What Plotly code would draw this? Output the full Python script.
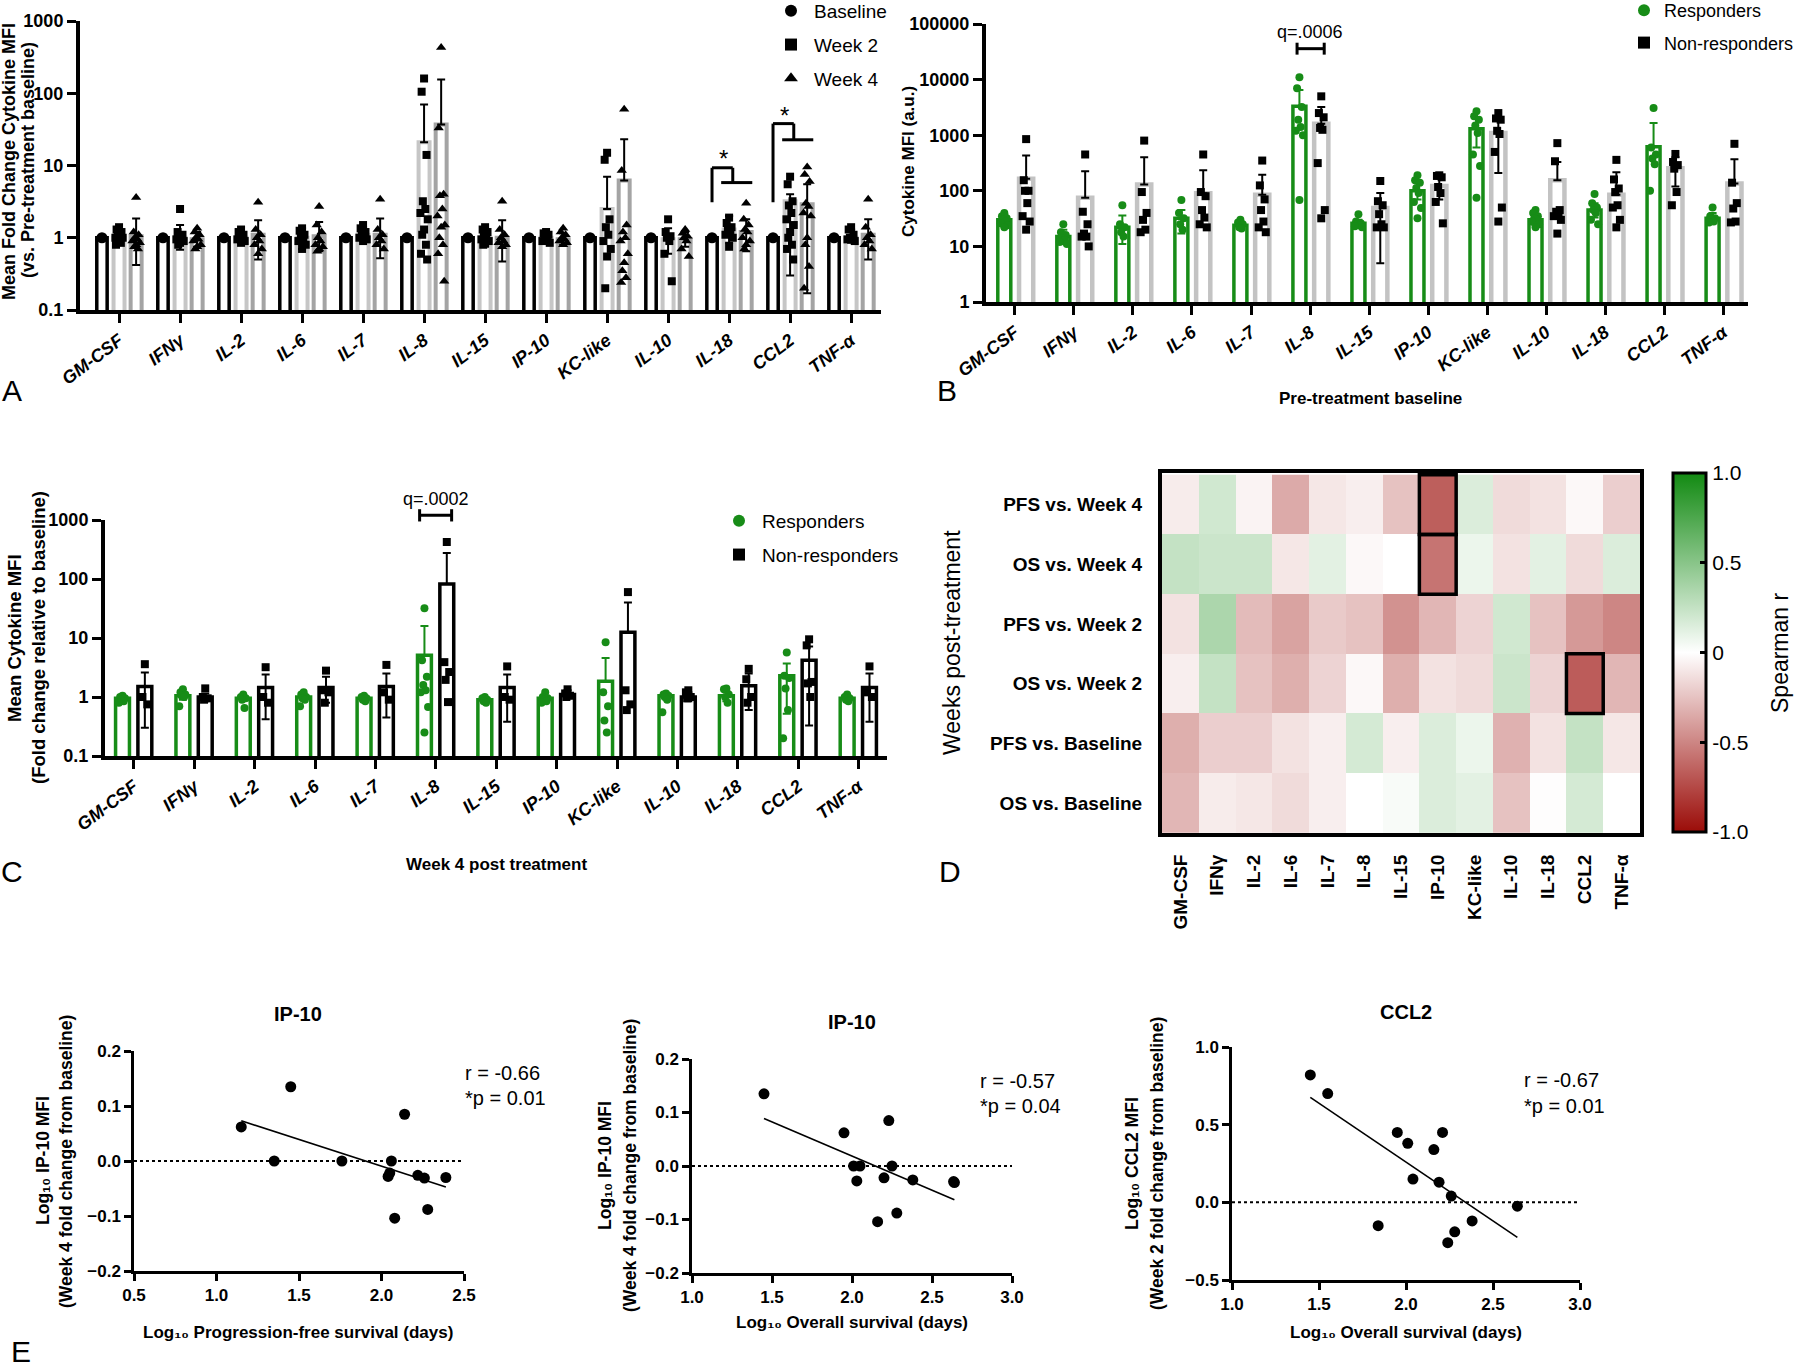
import numpy as np
import plotly.graph_objects as go

W, H = 1800, 1368
FONT = "Liberation Sans, Arial, Helvetica, sans-serif"
GREEN = "#178c17"

cytokines = ["GM-CSF", "IFNγ", "IL-2", "IL-6", "IL-7", "IL-8", "IL-15",
             "IP-10", "KC-like", "IL-10", "IL-18", "CCL2", "TNF-α"]

# ---------------- Panel A : fold change vs baseline ----------------
a_base_mean = [1.0, 1.0, 1.0, 1.0, 1.0, 1.0, 1.0, 1.0, 1.0, 1.0, 1.0, 1.0, 1.0]
a_w2_mean = [1.0, 1.0, 1.0, 1.0, 1.1, 21, 1.0, 1.0, 2.5, 0.95, 1.3, 3.2, 1.0]
a_w2_hi = [1.25, 1.5, 1.2, 1.35, 1.4, 70, 1.3, 1.15, 7.0, 1.35, 2.0, 4.0, 1.3]
a_w2_lo = [0.8, 0.68, 0.85, 0.7, 0.9, None, 0.75, 0.85, None, 0.6, 0.85, 0.3, 0.85]
a_w2_pts = [
    [1.4, 1.3, 1.2, 1.1, 1.05, 1.0, 1.0, 0.95, 0.9, 0.85, 0.8],
    [2.5, 1.2, 1.1, 1.05, 1.0, 0.95, 0.9, 0.85, 0.8],
    [1.3, 1.2, 1.1, 1.0, 1.0, 0.95, 0.9, 0.85],
    [1.35, 1.25, 1.1, 1.0, 0.95, 0.9, 0.8, 0.7],
    [1.5, 1.35, 1.2, 1.1, 1.05, 1.0, 0.95, 0.9],
    [160, 105, 14, 3.2, 2.5, 2.2, 1.8, 1.3, 1.1, 0.8, 0.6, 0.5],
    [1.4, 1.3, 1.2, 1.1, 1.0, 0.95, 0.9, 0.85, 0.8],
    [1.2, 1.15, 1.1, 1.0, 0.95, 0.9, 0.85],
    [15, 12, 1.8, 1.4, 1.1, 0.9, 0.7, 0.55, 0.2],
    [1.8, 1.2, 1.05, 1.0, 0.9, 0.6, 0.25],
    [1.9, 1.6, 1.4, 1.3, 1.2, 1.1, 1.0, 0.75],
    [7.0, 5.5, 3.2, 2.8, 2.2, 1.8, 1.5, 1.2, 1.0, 0.8, 0.7, 0.5],
    [1.4, 1.3, 1.1, 1.0, 1.0, 0.95, 0.9],
]
a_w4_mean = [1.05, 0.95, 1.1, 1.05, 1.1, 37, 1.0, 0.95, 6.2, 0.95, 1.2, 2.9, 1.1]
a_w4_hi = [1.85, 1.2, 1.75, 1.65, 1.85, 155, 1.75, 1.15, 23, 1.2, 1.8, 5.5, 1.8]
a_w4_lo = [0.42, 0.75, 0.5, 0.65, 0.52, None, 0.47, 0.8, None, 0.75, 0.65, 0.17, 0.5]
a_w4_pts = [
    [3.6, 1.2, 1.1, 1.0, 0.95, 0.9, 0.85, 0.8, 0.75, 0.7],
    [1.35, 1.2, 1.1, 1.0, 0.95, 0.9, 0.8, 0.75, 0.7],
    [3.1, 1.3, 1.1, 1.0, 0.9, 0.8, 0.7, 0.6],
    [2.7, 1.5, 1.2, 1.0, 0.9, 0.8, 0.75, 0.7, 0.65],
    [3.4, 1.3, 1.1, 1.0, 0.9, 0.8, 0.7],
    [430, 33, 4.0, 3.8, 2.5, 2.0, 1.5, 1.4, 1.0, 0.8, 0.6, 0.25],
    [3.2, 1.3, 1.1, 1.0, 0.9, 0.85, 0.8, 0.75],
    [1.35, 1.2, 1.1, 1.0, 0.95, 0.9, 0.85, 0.8],
    [60, 8.5, 1.5, 1.2, 1.0, 0.9, 0.6, 0.45, 0.35, 0.28, 0.24],
    [1.3, 1.15, 1.05, 1.0, 0.9, 0.7, 0.55],
    [3.0, 1.8, 1.5, 1.3, 1.2, 1.0, 0.9, 0.8, 0.7],
    [9.5, 7.5, 6.0, 3.0, 2.7, 2.2, 2.0, 1.0, 0.8, 0.4, 0.2],
    [3.4, 1.4, 1.1, 1.0, 0.9, 0.8, 0.7],
]
# significance brackets in A: (cytokine, leg bottom, top line, lower line, star)
a_sig = [("IL-18", 3.1, 9.3, 5.8, 10.2), ("CCL2", 3.1, 38, 22.7, 40)]

# ---------------- Panel B : pre-treatment baseline MFI ----------------
b_r_mean = [30, 15, 22, 32, 24, 3300, 26, 100, 1300, 30, 45, 620, 32]
b_r_hi = [38, 20, 36, 45, 28, 6500, 30, 140, 2000, 38, 60, 1650, 40]
b_r_lo = [24, 11, 11, 17, 21, None, 22, 70, 600, 24, 33, None, 27]
b_r_pts = [
    [40, 35, 32, 30, 28, 26, 24, 22],
    [25, 18, 16, 14, 13, 12, 11],
    [55, 25, 22, 18, 15],
    [68, 40, 32, 25, 20],
    [30, 27, 25, 22, 21],
    [11000, 7000, 3200, 1900, 1400, 1200, 1000, 68],
    [38, 28, 26, 25, 24, 23, 22],
    [190, 155, 140, 112, 91, 63, 49, 32],
    [2700, 2200, 1900, 1500, 1100, 450, 280, 75],
    [45, 40, 35, 32, 30, 28, 25, 22],
    [88, 60, 50, 45, 40, 30, 25],
    [3100, 600, 450, 380, 300, 100],
    [50, 35, 32, 30, 28, 27],
]
b_nr_mean = [165, 75, 130, 90, 85, 1600, 49, 122, 1100, 155, 85, 255, 135]
b_nr_hi = [430, 225, 400, 235, 195, 3200, 91, 175, 2000, 330, 215, 400, 370]
b_nr_lo = [None, None, None, None, None, None, 5, 70, 210, None, None, 120, None]
b_nr_pts = [
    [850, 155, 100, 100, 60, 35, 28, 20],
    [450, 42, 25, 17, 15, 15, 10],
    [800, 95, 40, 30, 20, 18],
    [450, 95, 80, 45, 33, 25, 22],
    [350, 125, 70, 45, 28, 22, 18],
    [5000, 2500, 2100, 1350, 1250, 315, 45, 32],
    [150, 65, 55, 38, 25, 22, 22],
    [190, 185, 175, 117, 91, 63, 26],
    [2500, 2000, 1900, 1200, 1050, 500, 50, 28],
    [720, 340, 45, 42, 38, 35, 30, 17],
    [360, 160, 110, 95, 55, 50, 30, 22],
    [460, 330, 290, 250, 95, 55],
    [700, 140, 60, 48, 28, 27],
]
b_q = ("IL-8", 36000, "q=.0006")

# ---------------- Panel C : week 4 fold change ----------------
c_r_mean = [0.95, 1.05, 0.95, 1.0, 0.95, 5.1, 0.9, 0.95, 1.85, 1.05, 1.05, 2.3, 0.95]
c_r_hi = [1.0, 1.2, 1.0, 1.1, 1.0, 16, 0.95, 1.05, 4.6, 1.1, 1.25, 3.7, 1.05]
c_r_lo = [0.9, 0.9, 0.9, 0.9, 0.9, None, 0.85, 0.85, None, 1.0, 0.85, 0.52, 0.9]
c_r_pts = [
    [1.05, 1.0, 0.95, 0.9, 0.85, 0.8],
    [1.35, 1.2, 1.1, 1.05, 1.0, 0.7],
    [1.1, 1.0, 0.95, 0.9, 0.65],
    [1.2, 1.1, 1.0, 0.95, 0.9, 0.7],
    [1.05, 1.0, 0.95, 0.9, 0.85],
    [32, 4.2, 2.2, 1.6, 1.3, 1.2, 0.68, 0.25],
    [1.0, 0.95, 0.9, 0.85, 0.8],
    [1.2, 1.0, 0.95, 0.9, 0.85, 0.8],
    [8.5, 1.2, 0.7, 0.4, 0.25],
    [1.15, 1.1, 1.05, 1.0, 0.9, 0.55],
    [1.4, 1.35, 1.1, 1.0, 0.8],
    [5.7, 2.3, 2.1, 1.4, 0.6, 0.2],
    [1.1, 1.0, 0.95, 0.9, 0.85],
]
c_nr_mean = [1.5, 1.0, 1.45, 1.45, 1.5, 82, 1.45, 1.1, 12.5, 1.0, 1.55, 4.2, 1.45]
c_nr_hi = [2.6, 1.15, 2.4, 2.2, 2.5, 275, 2.4, 1.3, 40, 1.2, 2.5, 7.2, 2.5]
c_nr_lo = [0.3, 0.85, 0.42, 0.8, 0.45, None, 0.38, 0.95, None, 0.85, 0.6, 0.33, 0.38]
c_nr_pts = [
    [3.6, 1.0, 0.75],
    [1.4, 1.0, 0.95, 0.9],
    [3.2, 1.0, 0.8],
    [2.8, 1.3, 1.2, 0.8],
    [3.5, 1.2, 0.9],
    [424, 3.9, 2.65, 1.95, 0.82],
    [3.3, 1.0, 0.9],
    [1.35, 1.15, 1.05, 1.0],
    [60, 1.3, 0.75, 0.6],
    [1.3, 1.2, 1.0, 0.95],
    [3.0, 2.0, 1.0, 0.8],
    [9.5, 7.5, 1.8, 1.7, 1.0],
    [3.3, 1.2, 1.0],
]
c_q = ("IL-8", 1200, "q=.0002")

# ---------------- Panel D : Spearman heatmap ----------------
d_rows = ["PFS vs. Week 4", "OS vs. Week 4", "PFS vs. Week 2",
          "OS vs. Week 2", "PFS vs. Baseline", "OS vs. Baseline"]
d_r = [
    [-0.08, 0.20, -0.05, -0.35, -0.10, -0.07, -0.25, -0.66, 0.15, -0.15, -0.12, -0.03, -0.20],
    [0.25, 0.22, 0.22, -0.10, 0.12, -0.03, 0.00, -0.57, 0.08, -0.12, 0.12, -0.15, 0.15],
    [-0.12, 0.35, -0.28, -0.38, -0.22, -0.25, -0.45, -0.30, -0.18, 0.20, -0.25, -0.42, -0.50],
    [-0.07, 0.25, -0.25, -0.33, -0.18, -0.03, -0.33, -0.12, -0.15, 0.22, -0.18, -0.67, -0.30],
    [-0.33, -0.20, -0.20, -0.12, -0.07, 0.18, -0.07, 0.15, 0.08, -0.32, -0.12, 0.25, -0.10],
    [-0.30, -0.08, -0.10, -0.15, -0.07, 0.00, 0.03, 0.15, 0.12, -0.25, -0.01, 0.18, 0.00],
]
d_highlight = [("PFS vs. Week 4", "IP-10"), ("OS vs. Week 4", "IP-10"), ("OS vs. Week 2", "CCL2")]

# ---------------- Panel E : correlations ----------------
e1_x = [1.15, 1.35, 1.45, 1.76, 2.04, 2.05, 2.06, 2.08, 2.14, 2.22, 2.26, 2.28, 2.39]
e1_y = [0.062, 0.0, 0.135, 0.0, -0.028, -0.022, 0.0, -0.104, 0.085, -0.026, -0.031, -0.088, -0.030]
e2_x = [1.45, 1.95, 2.01, 2.03, 2.05, 2.16, 2.20, 2.23, 2.25, 2.28, 2.38, 2.635, 2.64]
e2_y = [0.135, 0.062, 0.0, -0.028, 0.0, -0.104, -0.022, 0.085, 0.0, -0.088, -0.026, -0.029, -0.031]
e3_x = [1.45, 1.55, 1.84, 1.95, 2.01, 2.04, 2.16, 2.19, 2.21, 2.24, 2.26, 2.28, 2.38, 2.64]
e3_y = [0.82, 0.70, -0.15, 0.45, 0.38, 0.15, 0.34, 0.13, 0.45, -0.26, 0.04, -0.19, -0.12, -0.025]
e_r = ["r = -0.66", "r = -0.57", "r = -0.67"]
e_p = ["*p = 0.01", "*p = 0.04", "*p = 0.01"]

# =====================================================================
def px(x):
    return x / W


def py(y):
    return 1 - y / H


def dx(l, r):
    return [l / W, r / W]


def dy(t, b):
    return [1 - b / H, 1 - t / H]


OFFS = [0.0, -0.04, 0.04, -0.02, 0.02, -0.06, 0.06, 0.0, -0.03, 0.03, -0.05, 0.05, 0.01, -0.01]
idx = list(range(len(cytokines)))

fig = go.Figure()


def bars(xs, means, his, los, width, line_color, lw, err_color, xa, ya, err=True):
    kw = {}
    if err:
        plus = [h - m for h, m in zip(his, means)]
        minus = [(m - l) if l is not None else 0 for m, l in zip(means, los)]
        kw["error_y"] = dict(type="data", symmetric=False, array=plus, arrayminus=minus,
                             color=err_color, thickness=2, width=4)
    fig.add_trace(go.Bar(x=xs, y=means, width=width,
                         marker=dict(color="white", line=dict(color=line_color, width=lw)),
                         xaxis=xa, yaxis=ya, showlegend=False, hoverinfo="skip", **kw))


def points(centers, pts_list, symbol, size, color, name, xa, ya, legend, showlegend=True):
    xs, ys = [], []
    for c, pts in zip(centers, pts_list):
        for j, v in enumerate(pts):
            xs.append(c + OFFS[j % len(OFFS)])
            ys.append(v)
    fig.add_trace(go.Scatter(x=xs, y=ys, mode="markers", name=name, legendgroup=name + legend,
                             marker=dict(symbol=symbol, size=size, color=color, line=dict(width=0)),
                             xaxis=xa, yaxis=ya, legend=legend, showlegend=showlegend, hoverinfo="skip"))


# ---- Panel A
xa_b = [i - 0.28 for i in idx]
xa_2 = [i for i in idx]
xa_4 = [i + 0.28 for i in idx]
bars(xa_b, a_base_mean, None, None, 0.17, "black", 3.5, "black", "x", "y", err=False)
bars(xa_2, a_w2_mean, a_w2_hi, a_w2_lo, 0.18, "#c6c6c6", 4, "black", "x", "y")
bars(xa_4, a_w4_mean, a_w4_hi, a_w4_lo, 0.18, "#a4a4a4", 4, "black", "x", "y")
fig.add_trace(go.Scatter(x=xa_b, y=a_base_mean, mode="markers", name="Baseline", legendgroup="base",
                         marker=dict(symbol="circle", size=11, color="black"),
                         xaxis="x", yaxis="y", legend="legend", hoverinfo="skip"))
points(xa_2, a_w2_pts, "square", 8, "black", "Week 2", "x", "y", "legend")
points(xa_4, a_w4_pts, "triangle-up", 9, "black", "Week 4", "x", "y", "legend")

# ---- Panel B
xb_r = [i - 0.18 for i in idx]
xb_n = [i + 0.19 for i in idx]
bars(xb_r, b_r_mean, b_r_hi, b_r_lo, 0.22, GREEN, 3.5, GREEN, "x2", "y2")
bars(xb_n, b_nr_mean, b_nr_hi, b_nr_lo, 0.24, "#c3c3c3", 4.5, "black", "x2", "y2")
points(xb_r, b_r_pts, "circle", 8, GREEN, "Responders", "x2", "y2", "legend2")
points(xb_n, b_nr_pts, "square", 8, "black", "Non-responders", "x2", "y2", "legend2")

# ---- Panel C
xc_r = [i - 0.19 for i in idx]
xc_n = [i + 0.18 for i in idx]
bars(xc_r, c_r_mean, c_r_hi, c_r_lo, 0.23, GREEN, 3.5, GREEN, "x3", "y3")
bars(xc_n, c_nr_mean, c_nr_hi, c_nr_lo, 0.23, "black", 3.5, "black", "x3", "y3")
points(xc_r, c_r_pts, "circle", 8, GREEN, "Responders", "x3", "y3", "legend3")
points(xc_n, c_nr_pts, "square", 8, "black", "Non-responders", "x3", "y3", "legend3")

# ---- Panel D
fig.add_trace(go.Heatmap(
    z=d_r, x=cytokines, y=d_rows, zmin=-1, zmax=1, xaxis="x4", yaxis="y4",
    colorscale=[[0, "rgb(155,12,8)"], [0.5, "rgb(255,255,255)"], [1, "rgb(18,138,18)"]],
    hoverinfo="skip",
    colorbar=dict(x=px(1673), xanchor="left", y=py(652.5), yanchor="middle",
                  len=359, lenmode="pixels", thickness=33, thicknessmode="pixels",
                  outlinewidth=3, outlinecolor="black", xpad=0, ypad=0, borderwidth=0,
                  tickvals=[1, 0.5, 0, -0.5, -1], ticktext=["1.0", "0.5", "0", "-0.5", "-1.0"],
                  ticks="inside", ticklen=7, tickwidth=3, tickcolor="black",
                  tickfont=dict(size=21, family=FONT, color="black"))))

# ---- Panel E
for k, (ex, ey, xa, ya) in enumerate([(e1_x, e1_y, "x5", "y5"), (e2_x, e2_y, "x6", "y6"),
                                       (e3_x, e3_y, "x7", "y7")]):
    fig.add_trace(go.Scatter(x=ex, y=ey, mode="markers", marker=dict(size=11, color="black"),
                             xaxis=xa, yaxis=ya, showlegend=False, hoverinfo="skip"))
    slope, inter = np.polyfit(ex, ey, 1)
    lx = [min(ex), max(ex)]
    fig.add_trace(go.Scatter(x=lx, y=[slope * v + inter for v in lx], mode="lines",
                             line=dict(color="black", width=1.6),
                             xaxis=xa, yaxis=ya, showlegend=False, hoverinfo="skip"))

# ---------------- Axes ----------------
base_ax = dict(showgrid=False, zeroline=False, showline=True, linecolor="black",
               ticks="outside", tickcolor="black", automargin=False)
bold18 = dict(size=18, family=FONT, color="black", weight="bold")
bold17 = dict(size=17, family=FONT, color="black", weight="bold")
cat_font = dict(size=18, family=FONT, color="black", weight="bold", style="italic")

layout_axes = {}
# A
layout_axes["xaxis"] = dict(base_ax, domain=dx(80, 881), range=[-0.64, 12.49], anchor="y",
                            tickvals=idx, ticktext=cytokines, tickangle=-37, tickfont=cat_font,
                            linewidth=4, tickwidth=3, ticklen=9)
layout_axes["yaxis"] = dict(base_ax, domain=dy(21, 310), type="log", range=[-1, 3], anchor="x",
                            tickvals=[0.1, 1, 10, 100, 1000], ticktext=["0.1", "1", "10", "100", "1000"],
                            tickfont=bold18, linewidth=4, tickwidth=3, ticklen=9)
# B
layout_axes["xaxis2"] = dict(base_ax, domain=dx(986, 1748), range=[-0.49, 12.42], anchor="y2",
                             tickvals=idx, ticktext=cytokines, tickangle=-37, tickfont=cat_font,
                             linewidth=4, tickwidth=3, ticklen=9)
layout_axes["yaxis2"] = dict(base_ax, domain=dy(24, 302), type="log", range=[0, 5], anchor="x2",
                             tickvals=[1, 10, 100, 1000, 10000, 100000],
                             ticktext=["1", "10", "100", "1000", "10000", "100000"],
                             tickfont=bold18, linewidth=4, tickwidth=3, ticklen=9)
# C
layout_axes["xaxis3"] = dict(base_ax, domain=dx(105, 887), range=[-0.48, 12.47], anchor="y3",
                             tickvals=idx, ticktext=cytokines, tickangle=-37, tickfont=cat_font,
                             linewidth=4, tickwidth=3, ticklen=9)
layout_axes["yaxis3"] = dict(base_ax, domain=dy(520, 756), type="log", range=[-1, 3], anchor="x3",
                             tickvals=[0.1, 1, 10, 100, 1000], ticktext=["0.1", "1", "10", "100", "1000"],
                             tickfont=bold18, linewidth=4, tickwidth=3, ticklen=9)
# D
layout_axes["xaxis4"] = dict(showgrid=False, zeroline=False, showline=True, linecolor="black",
                             linewidth=4, mirror=True, ticks="", domain=dx(1162, 1640), anchor="y4",
                             tickangle=-90, ticklabelstandoff=10, automargin=False,
                             tickfont=dict(size=19, family=FONT, color="black", weight="bold"))
layout_axes["yaxis4"] = dict(showgrid=False, zeroline=False, showline=True, linecolor="black",
                             linewidth=4, mirror=True, ticks="", domain=dy(473, 833), anchor="x4",
                             autorange="reversed", ticklabelstandoff=12, automargin=False,
                             tickfont=dict(size=19, family=FONT, color="black", weight="bold"))
# E
e_ax = dict(base_ax, linewidth=2.5, tickwidth=2.5, ticklen=7, tickfont=bold17, tickformat=".1f")
layout_axes["xaxis5"] = dict(e_ax, domain=dx(134, 464), range=[0.5, 2.5], dtick=0.5, anchor="y5")
layout_axes["yaxis5"] = dict(e_ax, domain=dy(1051, 1271), range=[-0.2, 0.2], dtick=0.1, anchor="x5")
layout_axes["xaxis6"] = dict(e_ax, domain=dx(692, 1012), range=[1.0, 3.0], dtick=0.5, anchor="y6")
layout_axes["yaxis6"] = dict(e_ax, domain=dy(1059, 1273), range=[-0.2, 0.2], dtick=0.1, anchor="x6")
layout_axes["xaxis7"] = dict(e_ax, domain=dx(1232, 1580), range=[1.0, 3.0], dtick=0.5, anchor="y7")
layout_axes["yaxis7"] = dict(e_ax, domain=dy(1047, 1280), range=[-0.5, 1.0], dtick=0.5, anchor="x7")

# ---------------- Shapes ----------------
shapes = []
for name, leg_lo, top, low, star in a_sig:
    i = cytokines.index(name)
    L = dict(type="line", xref="x", yref="y", line=dict(color="black", width=3))
    shapes.append(dict(L, x0=i - 0.28, x1=i - 0.28, y0=leg_lo, y1=top))
    shapes.append(dict(L, x0=i - 0.28, x1=i + 0.06, y0=top, y1=top))
    shapes.append(dict(L, x0=i + 0.06, x1=i + 0.06, y0=top, y1=low))
    shapes.append(dict(L, x0=i - 0.13, x1=i + 0.38, y0=low, y1=low))

# B q bracket
iq = cytokines.index(b_q[0])
LB = dict(type="line", xref="x2", yref="y2", line=dict(color="black", width=3))
shapes.append(dict(LB, x0=iq - 0.22, x1=iq + 0.24, y0=b_q[1], y1=b_q[1]))
shapes.append(dict(LB, x0=iq - 0.22, x1=iq - 0.22, y0=b_q[1] / 1.28, y1=b_q[1] * 1.28))
shapes.append(dict(LB, x0=iq + 0.24, x1=iq + 0.24, y0=b_q[1] / 1.28, y1=b_q[1] * 1.28))


def logdom(v, lo, hi):
    return (np.log10(v) - lo) / (hi - lo)


iq = cytokines.index(c_q[0])
yq = logdom(c_q[1], -1, 3)
LC = dict(type="line", xref="x3", yref="y3 domain", line=dict(color="black", width=3))
shapes.append(dict(LC, x0=iq - 0.27, x1=iq + 0.26, y0=yq, y1=yq))
shapes.append(dict(LC, x0=iq - 0.27, x1=iq - 0.27, y0=yq - 0.026, y1=yq + 0.026))
shapes.append(dict(LC, x0=iq + 0.26, x1=iq + 0.26, y0=yq - 0.026, y1=yq + 0.026))

# D highlight boxes
for rname, cname in d_highlight:
    r = d_rows.index(rname)
    c = cytokines.index(cname)
    shapes.append(dict(type="rect", xref="x4", yref="y4", x0=c - 0.5, x1=c + 0.5,
                       y0=r - 0.5, y1=r + 0.5, line=dict(color="black", width=3.5)))

# E dotted zero lines
for xr, yr in [("x5", "y5"), ("x6", "y6"), ("x7", "y7")]:
    shapes.append(dict(type="line", xref=xr + " domain", yref=yr, x0=0, x1=1, y0=0, y1=0,
                       line=dict(color="black", width=2, dash="dot")))

# ---------------- Annotations ----------------
ann = []


def text(x, y, t, size=17, bold=False, angle=0, xanchor="center", yanchor="middle", **kw):
    f = dict(size=size, family=FONT, color="black")
    if bold:
        f["weight"] = "bold"
    ann.append(dict(x=px(x), y=py(y), xref="paper", yref="paper", text=t, showarrow=False,
                    font=f, textangle=angle, xanchor=xanchor, yanchor=yanchor, **kw))


# panel letters
for letter, (lx, ly) in {"A": (12, 390), "B": (947, 390), "C": (12, 871), "D": (950, 871),
                         "E": (21, 1351)}.items():
    text(lx, ly, letter, size=30)

# A y title
text(9, 162, "Mean Fold Change Cytokine MFI", size=18, bold=True, angle=-90)
text(28, 160, "(vs. Pre-treatment baseline)", size=18, bold=True, angle=-90)
# B y title / x title
text(908, 162, "Cytokine MFI (a.u.)", bold=True, angle=-90)
text(1370, 398, "Pre-treatment baseline", bold=True)
# C
text(15, 638, "Mean Cytokine MFI", size=18.5, bold=True, angle=-90)
text(39, 638, "(Fold change relative to baseline)", size=18.5, bold=True, angle=-90)
text(497, 864, "Week 4 post treatment", bold=True)
# D
text(952, 642, "Weeks post-treatment", size=23, angle=-90)
text(1780, 653, "Spearman r", size=23, angle=-90)

# stars in A
for name, leg_lo, top, low, star in a_sig:
    i = cytokines.index(name)
    ann.append(dict(x=i - 0.1, y=np.log10(star), xref="x", yref="y", text="*", showarrow=False,
                    yanchor="middle", yshift=6, font=dict(size=24, family=FONT, color="black")))
# q labels
iq = cytokines.index(b_q[0])
ann.append(dict(x=iq, y=np.log10(b_q[1]), xref="x2", yref="y2", text=b_q[2], showarrow=False,
                yanchor="bottom", yshift=5, font=dict(size=18, family=FONT, color="black")))
iq = cytokines.index(c_q[0])
ann.append(dict(x=iq, y=yq, xref="x3", yref="y3 domain", text=c_q[2], showarrow=False,
                yanchor="bottom", yshift=4, font=dict(size=18, family=FONT, color="black")))

# E titles etc
LOG10 = "Log\u2081\u2080"
text(298, 1014, "IP-10", size=20, bold=True)
text(852, 1022, "IP-10", size=20, bold=True)
text(1406, 1012, "CCL2", size=20, bold=True)
text(298, 1332, LOG10 + " Progression-free survival (days)", bold=True)
text(852, 1322, LOG10 + " Overall survival (days)", bold=True)
text(1406, 1332, LOG10 + " Overall survival (days)", bold=True)
text(43, 1161, LOG10 + " IP-10 MFI", size=17.5, bold=True, angle=-90)
text(66, 1162, "(Week 4 fold change from baseline)", size=17.5, bold=True, angle=-90)
text(605, 1166, LOG10 + " IP-10 MFI", size=17.5, bold=True, angle=-90)
text(630, 1166, "(Week 4 fold change from baseline)", size=17.5, bold=True, angle=-90)
text(1132, 1164, LOG10 + " CCL2 MFI", size=17.5, bold=True, angle=-90)
text(1157, 1164, "(Week 2 fold change from baseline)", size=17.5, bold=True, angle=-90)
for (sx, ry, pyy), rt, pt in zip([(463, 1073, 1098), (978, 1081, 1106), (1522, 1080, 1106)], e_r, e_p):
    text(sx, ry, rt, size=20, xanchor="left")
    text(sx, pyy, pt, size=20, xanchor="left")

leg_common = dict(bgcolor="rgba(0,0,0,0)", borderwidth=0, itemsizing="constant",
                  font=dict(size=19, family=FONT, color="black"), xanchor="left", yanchor="top",
                  tracegroupgap=6, itemclick=False)

fig.update_layout(
    width=W, height=H, margin=dict(l=0, r=0, t=0, b=0, pad=0, autoexpand=False),
    paper_bgcolor="white", plot_bgcolor="white",
    font=dict(family=FONT, color="black"),
    barmode="overlay", showlegend=True,
    legend=dict(leg_common, x=px(768), y=py(-8), itemwidth=36),
    legend2=dict(leg_common, x=px(1624), y=py(-8), font=dict(size=18, family=FONT, color="black")),
    legend3=dict(leg_common, x=px(716), y=py(502), itemwidth=36),
    shapes=shapes, annotations=ann,
    **layout_axes,
)

fig.write_html("out.html", config={"displayModeBar": False},
               post_script="document.body.style.margin='0';document.body.style.overflow='hidden';")
